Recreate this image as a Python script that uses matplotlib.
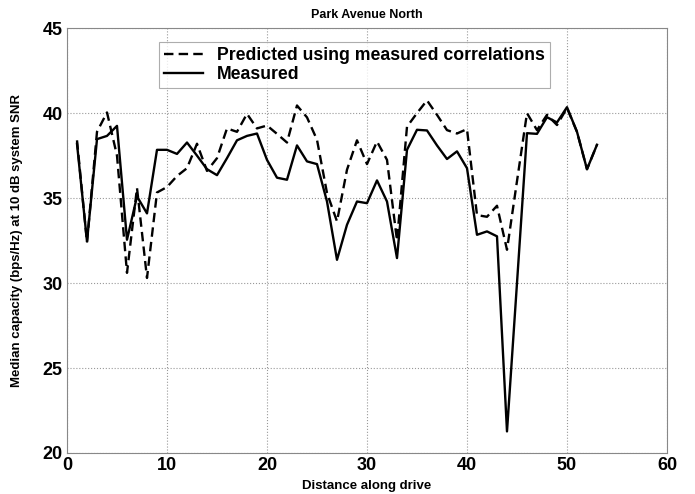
import numpy as np
import matplotlib
matplotlib.use("Agg")
import matplotlib.pyplot as plt

distance = np.arange(1, 54)

measured = [38.2, 32.45, 38.47, 38.66, 39.25, 32.55, 35.1, 34.1, 37.84, 37.84,
            37.6, 38.27, 37.5, 36.7, 36.35, 37.35, 38.4, 38.66, 38.8, 37.25,
            36.2, 36.08, 38.1, 37.16, 37.0, 34.8, 31.37, 33.43, 34.8, 34.7,
            36.04, 34.8, 31.47, 37.84, 39.02, 38.98, 38.1, 37.3, 37.75, 36.76,
            32.84, 33.04, 32.75, 21.27, 30.0, 38.82, 38.78, 39.76, 39.45, 40.35,
            38.9, 36.7, 38.14]

predicted = [38.4, 32.4, 38.9, 40.04, 37.5, 30.6, 35.6, 30.3, 35.33, 35.65,
             36.3, 36.76, 38.2, 36.6, 37.35, 39.1, 38.9, 39.96, 39.1, 39.27,
             38.78, 38.27, 40.45, 39.75, 38.43, 35.3, 33.63, 36.67, 38.4, 37.0,
             38.33, 37.25, 32.5, 39.2, 40.0, 40.75, 39.9, 39.0, 38.8, 39.06,
             34.0, 33.9, 34.55, 31.96, 36.0, 40.0, 39.0, 39.9, 39.3, 40.3,
             38.9, 36.7, 38.14]

plt.rcParams['font.family'] = ['Liberation Sans', 'DejaVu Sans']

fig = plt.figure(figsize=(6.95, 4.94), dpi=100)
ax = fig.add_axes([0.0964, 0.083, 0.8633, 0.860])

ax.plot(distance, predicted, 'k--', linewidth=1.7, dashes=(4, 2.2),
        label='Predicted using measured correlations')
ax.plot(distance, measured, 'k-', linewidth=1.7, label='Measured')

ax.set_xlim(0, 60)
ax.set_ylim(20, 45)
ax.set_xticks(np.arange(0, 61, 10))
ax.set_yticks(np.arange(20, 46, 5))
ax.grid(True, linestyle=':', color='#999999', linewidth=0.8)
ax.tick_params(direction='in', length=0, labelsize=13, pad=3)
for lbl in ax.get_xticklabels() + ax.get_yticklabels():
    lbl.set_fontweight('bold')
for s in ax.spines.values():
    s.set_color('#888888')
    s.set_linewidth(0.8)

ax.set_xlabel('Distance along drive', fontsize=9.5, fontweight='bold', labelpad=4)
ax.set_ylabel('Median capacity (bps/Hz) at 10 dB system SNR', fontsize=9.5,
              fontweight='bold', labelpad=14)
ax.set_title('Park Avenue North', fontsize=9, fontweight='bold', pad=7)

leg = ax.legend(loc='upper left', bbox_to_anchor=(0.153, 0.968),
                prop={'weight': 'bold', 'size': 12.7}, frameon=True, fancybox=False,
                handlelength=2.2, handletextpad=0.8, borderpad=0.3, labelspacing=0.1,
                borderaxespad=0)
leg.get_frame().set_edgecolor('#999999')
leg.get_frame().set_linewidth(0.8)

fig.savefig('out.png', dpi=100)
